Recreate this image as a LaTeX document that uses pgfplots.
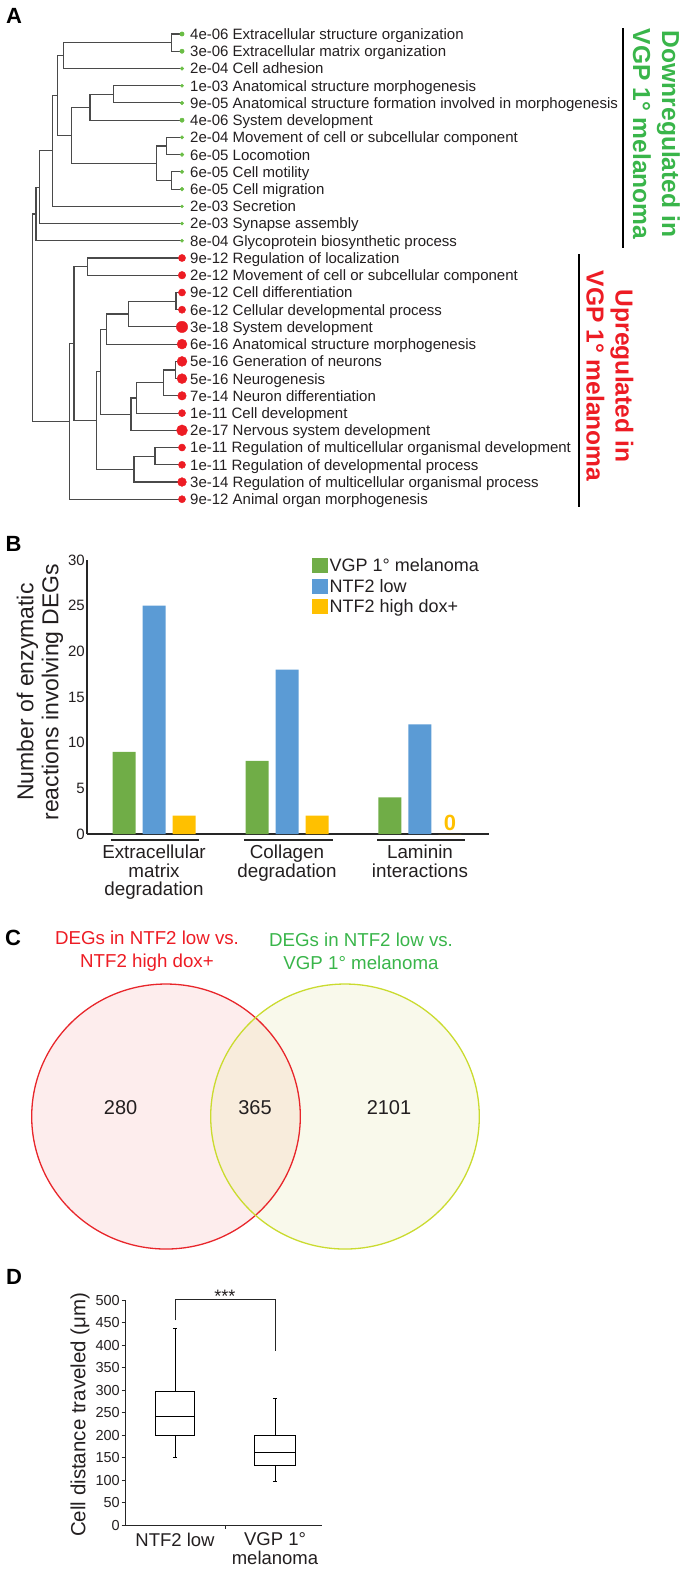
\documentclass[border=0pt]{standalone}
\usepackage{fontspec}
\setmainfont{Liberation Sans}
\usepackage{pgfplots}
\pgfplotsset{compat=1.18}
\usepackage{pgfplotstable}
\usepgfplotslibrary{statistics}

\definecolor{dendro}{HTML}{4A4A4A}
\definecolor{gdot}{HTML}{6ABD45}
\definecolor{rdot}{HTML}{ED1C24}
\definecolor{gtext}{HTML}{39B54A}
\definecolor{rtext}{HTML}{ED1C24}
\definecolor{bgreen}{HTML}{70AD47}
\definecolor{bblue}{HTML}{5B9BD5}
\definecolor{byellow}{HTML}{FFC000}
\definecolor{vrs}{HTML}{E8262B}
\definecolor{vrf}{HTML}{FDEDED}
\definecolor{vys}{HTML}{CADB2F}
\definecolor{vyf}{HTML}{F9F9EB}
\definecolor{vov}{HTML}{F8ECDC}
\definecolor{txt}{HTML}{231F20}
\newcommand{\fs}[2]{\fontsize{#1}{#2}\selectfont}
\newcommand{\rowlab}[2]{\node[anchor=base west,inner sep=0pt,font=\fs{15}{15},text=txt] at (axis cs:190,#1) {#2};}

\pgfplotstableread{
x y r
182 34.0 2.17
182 51.2 2.20
182 68.5 1.75
182 85.7 1.58
182 102.9 1.84
182 120.2 2.17
182 137.4 1.75
182 154.6 1.88
182 171.8 1.88
182 189.1 1.88
182 206.3 1.50
182 223.5 1.50
182 240.8 1.60
}\greendots

\pgfplotstableread{
x y r
182 258.0 3.57
182 275.2 3.78
182 292.5 3.57
182 309.7 3.62
182 326.9 5.70
182 344.1 4.94
182 361.4 4.96
182 378.6 4.96
182 395.8 4.26
182 413.1 3.55
182 430.3 5.43
182 447.5 3.55
182 464.8 3.55
182 482.0 4.38
182 499.2 3.57
}\reddots

\begin{document}
\begin{tikzpicture}
\useasboundingbox (0,0) rectangle (685pt,-1570pt);

% ---------------- canvas axis (panels A, C, letters) ----------------
\begin{axis}[at={(0pt,0pt)}, anchor=north west, scale only axis,
  width=685pt, height=1570pt, xmin=0, xmax=685, ymin=0, ymax=1570,
  y dir=reverse, hide axis, clip=false]

% dendrogram (elbow per internal node)
\addplot[dendro, line width=1.1pt, mark=none, unbounded coords=jump] coordinates {
(182,34.0) (171.7,34.0) (171.7,51.2) (182,51.2) (nan,nan)
(171.7,42.6) (63.3,42.6) (63.3,68.5) (182,68.5) (nan,nan)
(182,85.7) (113.3,85.7) (113.3,102.9) (182,102.9) (nan,nan)
(113.3,94.3) (90,94.3) (90,120.2) (182,120.2) (nan,nan)
(182,137.4) (166.7,137.4) (166.7,154.6) (182,154.6) (nan,nan)
(182,171.8) (171.7,171.8) (171.7,189.1) (182,189.1) (nan,nan)
(166.7,146.0) (156.7,146.0) (156.7,180.5) (171.7,180.5) (nan,nan)
(90,107.3) (71.7,107.3) (71.7,163.2) (156.7,163.2) (nan,nan)
(63.3,55.6) (57.3,55.6) (57.3,135.3) (71.7,135.3) (nan,nan)
(57.3,95.4) (52.3,95.4) (52.3,206.3) (182,206.3) (nan,nan)
(52.3,150.9) (39.3,150.9) (39.3,223.5) (182,223.5) (nan,nan)
(39.3,187.2) (36,187.2) (36,240.8) (182,240.8) (nan,nan)
(182,258.0) (87.3,258.0) (87.3,275.2) (182,275.2) (nan,nan)
(182,292.5) (176,292.5) (176,309.7) (182,309.7) (nan,nan)
(176,301.1) (128.3,301.1) (128.3,326.9) (182,326.9) (nan,nan)
(128.3,314.0) (106.7,314.0) (106.7,344.1) (182,344.1) (nan,nan)
(182,361.4) (175.7,361.4) (175.7,378.6) (182,378.6) (nan,nan)
(175.7,370.0) (163.3,370.0) (163.3,395.8) (182,395.8) (nan,nan)
(163.3,382.9) (136.7,382.9) (136.7,413.1) (182,413.1) (nan,nan)
(136.7,398.0) (131,398.0) (131,430.3) (182,430.3) (nan,nan)
(106.7,329.05) (100.7,329.05) (100.7,414.15) (131,414.15) (nan,nan)
(182,447.5) (155,447.5) (155,464.8) (182,464.8) (nan,nan)
(155,456.15) (134,456.15) (134,482.0) (182,482.0) (nan,nan)
(100.7,371.6) (96.7,371.6) (96.7,469.1) (134,469.1) (nan,nan)
(87.3,266.6) (74,266.6) (74,420.35) (96.7,420.35) (nan,nan)
(74,343.5) (69.3,343.5) (69.3,499.2) (182,499.2) (nan,nan)
(36,214.0) (32.7,214.0) (32.7,421.35) (69.3,421.35)
};

\addplot[only marks, mark=*, scatter, point meta=explicit,
  scatter/use mapped color={draw=gdot, fill=gdot},
  visualization depends on={\thisrow{r}\as\rr},
  scatter/@pre marker code/.append style={/tikz/mark size=\rr pt}]
  table[x=x, y=y, meta=r] {\greendots};
\addplot[only marks, mark=*, scatter, point meta=explicit,
  scatter/use mapped color={draw=rdot, fill=rdot},
  visualization depends on={\thisrow{r}\as\rr},
  scatter/@pre marker code/.append style={/tikz/mark size=\rr pt}]
  table[x=x, y=y, meta=r] {\reddots};

\rowlab{39.4}{4e-06 Extracellular structure organization}
\rowlab{56.6}{3e-06 Extracellular matrix organization}
\rowlab{73.9}{2e-04 Cell adhesion}
\rowlab{91.1}{1e-03 Anatomical structure morphogenesis}
\rowlab{108.3}{9e-05 Anatomical structure formation involved in morphogenesis}
\rowlab{125.6}{4e-06 System development}
\rowlab{142.8}{2e-04 Movement of cell or subcellular component}
\rowlab{160.0}{6e-05 Locomotion}
\rowlab{177.2}{6e-05 Cell motility}
\rowlab{194.5}{6e-05 Cell migration}
\rowlab{211.7}{2e-03 Secretion}
\rowlab{228.9}{2e-03 Synapse assembly}
\rowlab{246.2}{8e-04 Glycoprotein biosynthetic process}
\rowlab{263.4}{9e-12 Regulation of localization}
\rowlab{280.6}{2e-12 Movement of cell or subcellular component}
\rowlab{297.9}{9e-12 Cell differentiation}
\rowlab{315.1}{6e-12 Cellular developmental process}
\rowlab{332.3}{3e-18 System development}
\rowlab{349.5}{6e-16 Anatomical structure morphogenesis}
\rowlab{366.8}{5e-16 Generation of neurons}
\rowlab{384.0}{5e-16 Neurogenesis}
\rowlab{401.2}{7e-14 Neuron differentiation}
\rowlab{418.5}{1e-11 Cell development}
\rowlab{435.7}{2e-17 Nervous system development}
\rowlab{452.9}{1e-11 Regulation of multicellular organismal development}
\rowlab{470.2}{1e-11 Regulation of developmental process}
\rowlab{487.4}{3e-14 Regulation of multicellular organismal process}
\rowlab{504.6}{9e-12 Animal organ morphogenesis}

% brackets
\draw[line width=1.8pt, black] (axis cs:622.7,28) -- (axis cs:622.7,248);
\draw[line width=1.8pt, black] (axis cs:579.3,254) -- (axis cs:579.3,507);
\node[rotate=-90, align=center, font=\bfseries\fs{24.6}{29}, text=gtext, inner sep=0pt]
  at (axis cs:656.5,134) {Downregulated in\\VGP 1° melanoma};
\node[rotate=-90, align=center, font=\bfseries\fs{24.6}{29}, text=rtext, inner sep=0pt]
  at (axis cs:610,376) {Upregulated in\\VGP 1° melanoma};

% panel letters
\node[font=\bfseries\fs{22}{22}, inner sep=0pt] at (axis cs:14,16) {A};
\node[font=\bfseries\fs{22}{22}, inner sep=0pt] at (axis cs:13.5,543.5) {B};
\node[font=\bfseries\fs{22}{22}, inner sep=0pt] at (axis cs:13,938) {C};
\node[font=\bfseries\fs{22}{22}, inner sep=0pt] at (axis cs:14,1277) {D};

% B: group underlines
\draw[line width=2.6pt, black!85] (axis cs:110.5,840) -- (axis cs:199,840);
\draw[line width=2.6pt, black!85] (axis cs:244,840) -- (axis cs:333,840);
\draw[line width=2.6pt, black!85] (axis cs:377,840) -- (axis cs:465,840);

% C: Venn diagram
\fill[vrf] (axis cs:166,1116.5) ellipse [x radius=134.3pt, y radius=132.5pt];
\fill[vyf] (axis cs:345,1116.5) ellipse [x radius=134.3pt, y radius=132.5pt];
\begin{scope}
\clip (axis cs:166,1116.5) ellipse [x radius=134.3pt, y radius=132.5pt];
\fill[vov] (axis cs:345,1116.5) ellipse [x radius=134.3pt, y radius=132.5pt];
\end{scope}
\draw[vrs, line width=1.3pt] (axis cs:166,1116.5) ellipse [x radius=134.3pt, y radius=132.5pt];
\draw[vys, line width=1.3pt] (axis cs:345,1116.5) ellipse [x radius=134.3pt, y radius=132.5pt];
\node[font=\fs{20}{20}, text=txt] at (axis cs:120.6,1108) {280};
\node[font=\fs{20}{20}, text=txt] at (axis cs:255,1108) {365};
\node[font=\fs{20}{20}, text=txt] at (axis cs:389,1108) {2101};
\node[align=center, text=rtext, font=\fs{18.7}{22.7}, inner sep=0pt] at (axis cs:147,951.4) {DEGs in NTF2 low vs.\\NTF2 high dox+};
\node[align=center, text=gtext, font=\fs{18.7}{22.7}, inner sep=0pt] at (axis cs:361,951.4) {DEGs in NTF2 low vs.\\VGP 1° melanoma};
\end{axis}

% ---------------- panel B ----------------
\begin{axis}[at={(87pt,-834pt)}, anchor=south west, scale only axis,
  width=402pt, height=274pt, xmin=-0.504, xmax=2.519, ymin=0, ymax=30,
  ytick={0,5,...,30}, xtick={0,1,2},
  xticklabels={Extracellular\\matrix\\degradation, Collagen\\degradation, Laminin\\interactions},
  axis x line*=bottom, axis y line*=left,
  axis line style={line width=1.2pt, black!85},
  major tick length=0pt,
  xticklabel style={align=center, font=\fs{18.8}{18.5}, anchor=north, yshift=-11pt, inner sep=0pt, text=txt},
  yticklabel style={font=\fs{15}{15}, inner xsep=2pt, text=txt},
  /pgf/number format/assume math mode=true,
  ybar, bar width=23pt, clip=false,
  ylabel={Number of enzymatic\\reactions involving DEGs},
  ylabel style={align=center, font=\fs{23}{25}, at={(axis description cs:-0.117,0.518)}, anchor=center, text=txt},
  legend style={at={(axis description cs:0.5597,1.012)}, anchor=north west,
    draw=none, fill=none, font=\fs{18}{18}, row sep=3pt, inner sep=0pt,
    nodes={inner sep=1.5pt, text=txt}, cells={anchor=west}},
  legend cell align=left]
\addplot[fill=bgreen, draw=none, bar shift=-30pt,
  legend image code/.code={\fill[bgreen] (0pt,-7.5pt) rectangle (16pt,7.5pt);}]
  coordinates {(0,9) (1,8) (2,4)};
\addplot[fill=bblue, draw=none, bar shift=0pt,
  legend image code/.code={\fill[bblue] (0pt,-7.5pt) rectangle (16pt,7.5pt);}]
  coordinates {(0,25) (1,18) (2,12)};
\addplot[fill=byellow, draw=none, bar shift=30pt,
  legend image code/.code={\fill[byellow] (0pt,-7.5pt) rectangle (16pt,7.5pt);}]
  coordinates {(0,2) (1,2) (2,0)};
\legend{VGP 1° melanoma, NTF2 low, NTF2 high dox+}
\node[font=\bfseries\fs{22}{22}, text=byellow, anchor=south, inner sep=0pt, xshift=30pt, yshift=3pt] at (axis cs:2,0) {0};
\end{axis}

% ---------------- panel D ----------------
\begin{axis}[at={(125pt,-1525pt)}, anchor=south west, scale only axis,
  width=197pt, height=225pt, xmin=-0.5, xmax=1.47, ymin=0, ymax=500,
  ytick={0,50,...,500}, xtick={0,1},
  xticklabels={NTF2 low, VGP 1°\\melanoma},
  axis x line*=bottom, axis y line*=left,
  axis line style={line width=1pt, black!85},
  tick align=outside, major tick length=3.5pt,
  ytick style={line width=0.8pt, black!85}, xtick style={draw=none},
  xticklabel style={align=center, font=\fs{18.5}{18.7}, anchor=north, inner sep=0pt, yshift=-4pt, text=txt},
  yticklabel style={font=\fs{14.5}{14.5}, inner xsep=1.5pt, text=txt},
  /pgf/number format/assume math mode=true,
  ylabel={Cell distance traveled (μm)},
  ylabel style={font=\fs{20.5}{20.5}, at={(axis description cs:-0.228,0.49)}, anchor=center, text=txt},
  clip=false, boxplot/draw direction=y]
\addplot[black, line width=0.9pt, solid, mark=none,
  boxplot prepared={draw position=0, lower whisker=151, lower quartile=199,
  median=241, upper quartile=296, upper whisker=437, box extend=0.39, whisker extend=0.045}]
  coordinates {};
\addplot[black, line width=0.9pt, solid, mark=none,
  boxplot prepared={draw position=1, lower whisker=96, lower quartile=132,
  median=162, upper quartile=199, upper whisker=282, box extend=0.41, whisker extend=0.045}]
  coordinates {};
\draw[line width=0.9pt, black!85] (axis cs:0,455) -- (axis cs:0,502) -- (axis cs:1,502) -- (axis cs:1,387);
\node[font=\fs{18}{18}, anchor=base, inner sep=0pt, yshift=-3.5pt, text=txt] at (axis cs:0.5,502) {***};
\draw[line width=0.9pt, black!85] (axis cs:0.5,0) -- ++(0pt,-3.5pt);
\end{axis}
\end{tikzpicture}
\end{document}
